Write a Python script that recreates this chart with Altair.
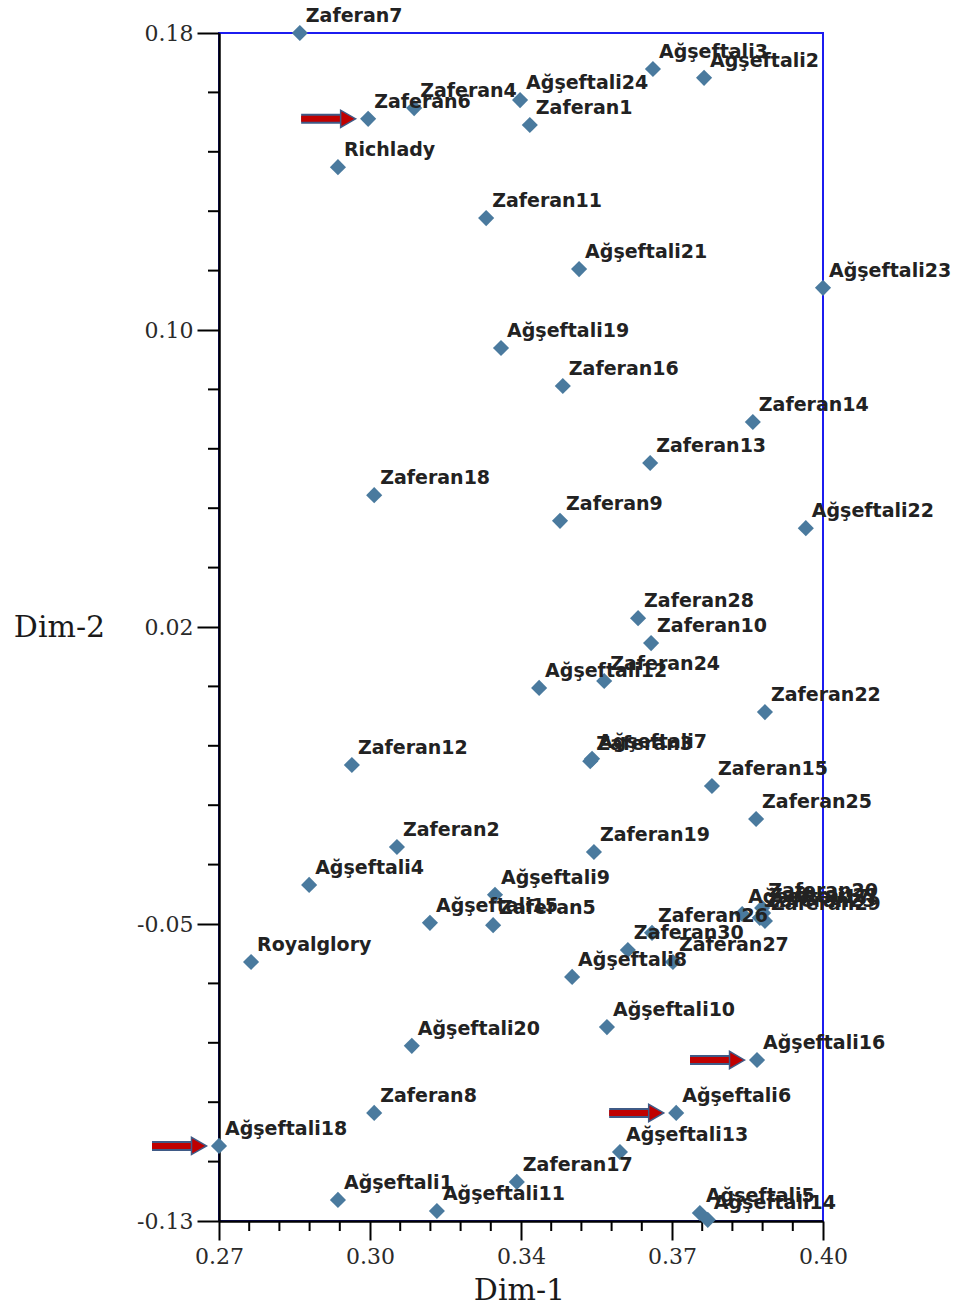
import altair as alt
import pandas as pd

# ---------------- data ----------------
names = [
    "Zaferan7", "Ağşeftali3", "Ağşeftali2", "Ağşeftali24", "Zaferan4", "Zaferan6",
    "Zaferan1", "Richlady", "Zaferan11", "Ağşeftali21", "Ağşeftali23", "Ağşeftali19",
    "Zaferan16", "Zaferan14", "Zaferan13", "Zaferan18", "Zaferan9", "Ağşeftali22",
    "Zaferan28", "Zaferan10", "Zaferan24", "Ağşeftali12", "Zaferan22", "Zaferan12",
    "Zaferan3", "Ağşeftali7", "Zaferan15", "Zaferan25", "Zaferan2", "Zaferan19",
    "Ağşeftali4", "Ağşeftali9", "Ağşeftali15", "Zaferan5", "Royalglory", "Zaferan20",
    "Zaferan21", "Zaferan23", "Zaferan29", "Ağşeftali17", "Zaferan26", "Zaferan30",
    "Zaferan27", "Ağşeftali8", "Ağşeftali10", "Ağşeftali20", "Ağşeftali16", "Zaferan8",
    "Ağşeftali6", "Ağşeftali18", "Ağşeftali13", "Zaferan17", "Ağşeftali1", "Ağşeftali11",
    "Ağşeftali5", "Ağşeftali14",
]
dim1 = [
    0.2874, 0.3634, 0.3744, 0.3348, 0.3120, 0.3021,
    0.3369, 0.2956, 0.3275, 0.3475, 0.4000, 0.3307,
    0.3440, 0.3849, 0.3628, 0.3034, 0.3434, 0.3963,
    0.3602, 0.3630, 0.3529, 0.3389, 0.3875, 0.2986,
    0.3499, 0.3503, 0.3761, 0.3856, 0.3083, 0.3507,
    0.2894, 0.3294, 0.3154, 0.3290, 0.2769, 0.3869,
    0.3871, 0.3864, 0.3875, 0.3826, 0.3632, 0.3580,
    0.3677, 0.3460, 0.3535, 0.3115, 0.3858, 0.3034,
    0.3684, 0.2700, 0.3563, 0.3341, 0.2956, 0.3169,
    0.3735, 0.3752,
]
dim2 = [
    0.1800, 0.1706, 0.1683, 0.1625, 0.1604, 0.1576,
    0.1560, 0.1450, 0.1317, 0.1184, 0.1135, 0.0978,
    0.0879, 0.0785, 0.0678, 0.0594, 0.0527, 0.0508,
    0.0273, 0.0208, 0.0109, 0.0091, 0.0028, -0.0110,
    -0.0100, -0.0094, -0.0165, -0.0251, -0.0324, -0.0337,
    -0.0423, -0.0449, -0.0522, -0.0528, -0.0624, -0.0483,
    -0.0496, -0.0509, -0.0517, -0.0499, -0.0548, -0.0593,
    -0.0624, -0.0663, -0.0794, -0.0843, -0.0880, -0.1018,
    -0.1018, -0.1104, -0.1120, -0.1198, -0.1245, -0.1274,
    -0.1279, -0.1297,
]
arrow_targets = ["Zaferan6", "Ağşeftali16", "Ağşeftali6", "Ağşeftali18"]

x_ticks = [0.27, 0.3025, 0.335, 0.3675, 0.40]
x_tick_labels = ["0.27", "0.30", "0.34", "0.37", "0.40"]
y_ticks = [0.18, 0.1025, 0.025, -0.0525, -0.13]
y_tick_labels = ["0.18", "0.10", "0.02", "-0.05", "-0.13"]

# ---------------- layout ----------------
W, H = 604, 1188
LEFT, TOP = 219, 33
XD = [0.27, 0.40]
YD = [-0.13, 0.18]
kx = (XD[1] - XD[0]) / W

df = pd.DataFrame({"name": names, "dim1": dim1, "dim2": dim2})
arrows = df[df["name"].isin(arrow_targets)].copy()


def minors(major, n=5):
    out = []
    for a, b in zip(major[:-1], major[1:]):
        for i in range(1, n):
            out.append(a + (b - a) * i / n)
    return out


xminor = pd.DataFrame({"v": minors(x_ticks)})
yminor = pd.DataFrame({"v": minors(y_ticks)})


def label_expr(vals, labs):
    s = ""
    for v, l in zip(vals, labs):
        s += f"abs(datum.value - ({v})) < 1e-6 ? '{l}' : "
    return s + "''"


xscale = alt.Scale(domain=XD, nice=False, zero=False)
yscale = alt.Scale(domain=YD, nice=False, zero=False)

xaxis = alt.Axis(
    values=x_ticks, labelExpr=label_expr(x_ticks, x_tick_labels), title="Dim-1",
    tickSize=19, labelPadding=6, titleX=300, titleY=69, titleBaseline="middle",
    titleAlign="center", labelFlush=False,
)
yaxis = alt.Axis(
    values=y_ticks, labelExpr=label_expr(y_ticks, y_tick_labels), title="Dim-2",
    tickSize=22, labelPadding=4, titleAngle=0, titleX=-160, titleY=594,
    titleAlign="center", titleBaseline="middle", labelFlush=False,
)

base = alt.Chart(df)

points = base.mark_point(shape="diamond", filled=True, size=260, color="#4a7a9e", opacity=1).encode(
    x=alt.X("dim1:Q", scale=xscale, axis=xaxis),
    y=alt.Y("dim2:Q", scale=yscale, axis=yaxis),
)

labels = base.mark_text(
    align="left", baseline="middle", dx=6, dy=-17, font="DejaVu Sans",
    fontSize=19, fontWeight="bold", color="#222222",
).encode(x="dim1:Q", y="dim2:Q", text="name:N")

yminor_rules = alt.Chart(yminor).mark_rule(color="black", strokeWidth=2).encode(
    y="v:Q", x=alt.value(-11), x2=alt.value(0)
)
xminor_rules = alt.Chart(xminor).mark_rule(color="black", strokeWidth=2).encode(
    x="v:Q", y=alt.value(H), y2=alt.value(H + 10)
)

arrow_base = alt.Chart(arrows).transform_calculate(
    xt=f"datum.dim1 - {67 * kx}",
    xb=f"datum.dim1 - {24 * kx}",
    xb2=f"datum.dim1 - {26 * kx}",
    xh=f"datum.dim1 - {20 * kx}",
)
arrow_outline = arrow_base.mark_rule(color="#3f5a86", strokeWidth=10, strokeCap="butt").encode(
    x="xt:Q", x2="xb:Q", y="dim2:Q"
)
arrow_body = arrow_base.mark_rule(color="#c00000", strokeWidth=6, strokeCap="butt").encode(
    x=alt.X("xt:Q"), x2="xb2:Q", y="dim2:Q"
)
arrow_head = arrow_base.mark_point(
    shape="triangle-right", filled=True, size=300, fill="#c00000",
    stroke="#3f5a86", strokeWidth=1.5, opacity=1,
).encode(x="xh:Q", y="dim2:Q")

chart = alt.layer(
    yminor_rules, xminor_rules, points, labels, arrow_outline, arrow_body, arrow_head
).properties(
    width=W, height=H,
    autosize=alt.AutoSizeParams(type="none"),
    padding={"left": LEFT, "top": TOP, "right": 964 - LEFT - W, "bottom": 1306 - TOP - H},
).configure_view(
    stroke="#1c1cf0", strokeWidth=2
).configure_axis(
    domainColor="black", domainWidth=2.5, tickColor="black", tickWidth=2,
    grid=False, labelFont="DejaVu Serif", labelFontSize=22, labelColor="#2a2a2a",
    titleFont="DejaVu Serif", titleFontSize=30, titleFontWeight="normal", titleColor="#1a1a1a",
)

chart.save("out.html", embed_options={"renderer": "svg", "actions": False})
